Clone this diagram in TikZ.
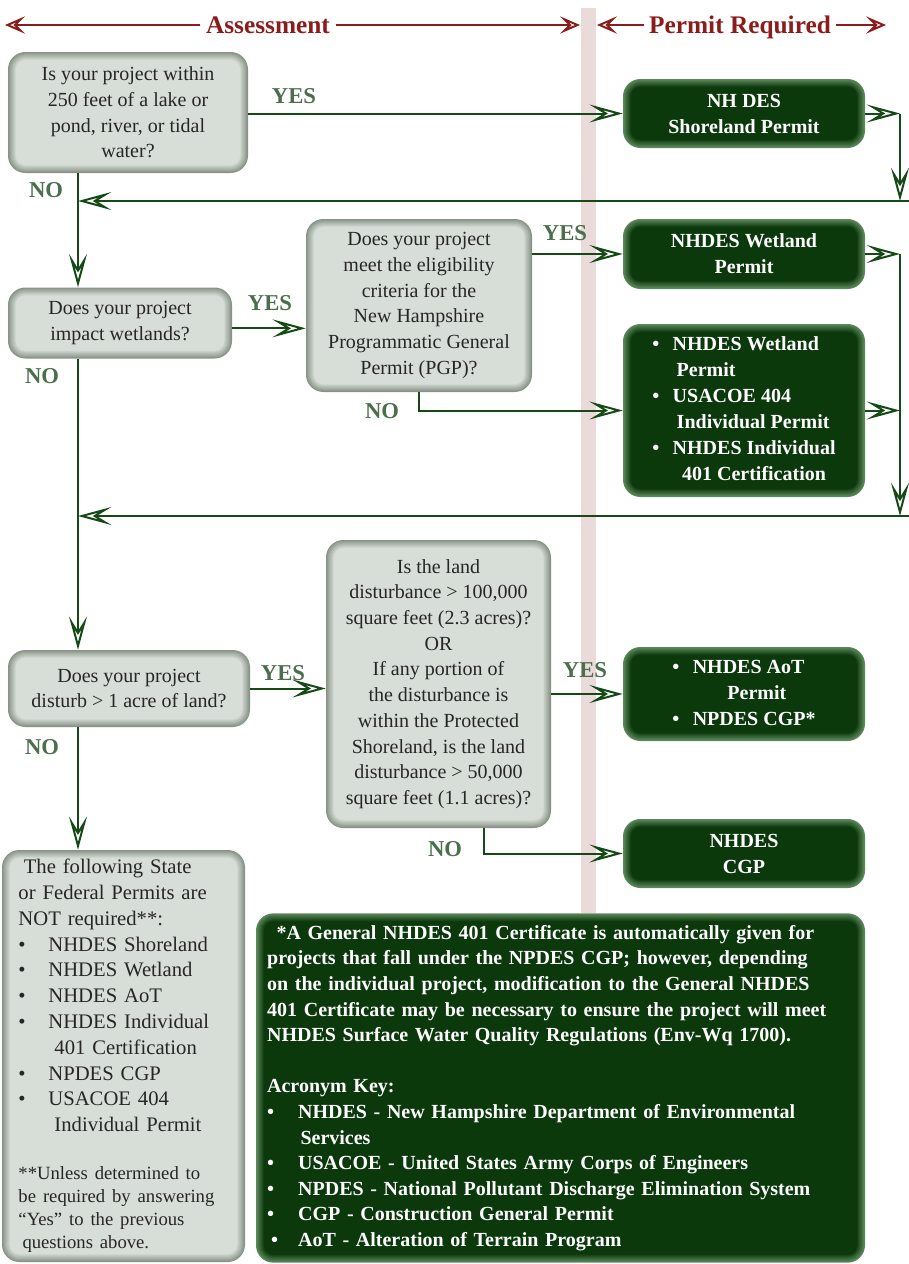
\documentclass[tikz,border=0pt]{standalone}
\usepackage{fontspec}
\setmainfont{Liberation Serif}
\usepackage{xcolor}
\usetikzlibrary{arrows.meta,calc}

\definecolor{hdred}{HTML}{8B1C1C}
\definecolor{band}{HTML}{EBDADA}
\definecolor{lnk}{HTML}{154A16}
\definecolor{lblgreen}{HTML}{4B6E4C}
\definecolor{qfill}{HTML}{D7DDD7}
\definecolor{qedge}{HTML}{879287}
\definecolor{pfill}{HTML}{0B390C}
\definecolor{pedge}{HTML}{5E8A5E}

\newcommand{\bul}[1]{\textbullet\hspace{#1}}

\tikzset{
  glow/.style 2 args={path picture={
      \foreach \k in {1,...,10}{
        \pgfmathtruncatemacro\pc{\k*10}
        \pgfmathsetmacro\rr{13-\k*0.6}
        \fill[#1!\pc!#2, rounded corners=\rr pt]
          ($(path picture bounding box.south west)+(\k*0.8,-\k*0.8)$) rectangle
          ($(path picture bounding box.north east)+(-\k*0.8,\k*0.8)$);
      }}},
  qbox/.style={rounded corners=13pt, fill=qedge, glow={qfill}{qedge}, align=center,
    inner sep=0pt, text=black!85, font=\fontsize{15}{19.3}\selectfont},
  pbox/.style={rounded corners=13pt, fill=pedge, glow={pfill}{pedge}, align=center,
    inner sep=0pt, text=white, font=\fontsize{15}{19.5}\selectfont\bfseries},
  flow/.style={draw=lnk, line width=1.5pt, -{Stealth[open, length=25pt, width=13.5pt, inset=11pt]}},
  harrow/.style={draw=hdred, line width=1.5pt, -{Stealth[open, length=15pt, width=13pt, inset=6.5pt]}},
  hdr/.style={text=hdred, font=\fontsize{19}{19}\selectfont\bfseries, text depth=0pt, inner sep=4pt},
  lbl/.style={text=lblgreen, font=\fontsize{17}{17}\selectfont\bfseries},
}

\begin{document}
\begin{tikzpicture}[x=0.75pt, y=-0.75pt]
  \useasboundingbox (0,0) rectangle (909,1264);
  % band between the two columns
  \fill[band] (581,8) rectangle (596,913);

  % headers
  \node[hdr] (ass) at (268,25) {Assessment};
  \node[hdr] (req) at (740,25) {Permit Required};
  \coordinate (ass l) at (5,25);
  \coordinate (ass r) at (580,25);
  \coordinate (req l) at (597,25);
  \coordinate (req r) at (886,25);
  \draw[harrow] (ass.west) -- (ass l);
  \draw[harrow] (ass.east) -- (ass r);
  \draw[harrow] (req.west) -- (req l);
  \draw[harrow] (req.east) -- (req r);

  % questions
  \node[qbox, minimum width=180pt, minimum height=90.75pt] (q1) at (128,112.5)
    {Is your project within\\250 feet of a lake or\\pond, river, or tidal\\water?};
  \node[qbox, minimum width=168pt, minimum height=53.25pt] (q2) at (120,323)
    {Does your project\\impact wetlands?};
  \node[qbox, minimum width=169.5pt, minimum height=129.75pt] (q3) at (419,305.5)
    {Does your project\\meet the eligibility\\criteria for the\\New Hampshire\\Programmatic General\\Permit (PGP)?};
  \node[qbox, minimum width=181.5pt, minimum height=57.75pt] (q4) at (129,688.5)
    {Does your project\\disturb > 1 acre of land?};
  \node[qbox, minimum width=168.75pt, minimum height=216pt] (q5) at (438.5,684)
    {Is the land\\disturbance > 100,000\\square feet (2.3 acres)?\\OR\\If any portion of\\the disturbance is\\within the Protected\\Shoreland, is the land\\disturbance > 50,000\\square feet (1.1 acres)?};
  \node[qbox, minimum width=182.25pt, minimum height=309pt, text width=157.5pt, align=left,
    font=\fontsize{15.5}{19.35}\selectfont] (q6) at (123.5,1056)
    {\hspace*{4pt}The following State\\or Federal Permits are\\NOT required**:\\
     \bul{17pt}NHDES Shoreland\\\bul{17pt}NHDES Wetland\\\bul{17pt}NHDES AoT\\
     \bul{17pt}NHDES Individual\\\hspace*{27pt}401 Certification\\\bul{17pt}NPDES CGP\\
     \bul{17pt}USACOE 404\\\hspace*{27pt}Individual Permit\par\vspace{19pt}
     {\fontsize{14}{17.25}\selectfont **Unless determined to\\be required by answering\\“Yes” to the previous\\\hspace*{3pt}questions above.\par}};

  % permits
  \node[pbox, minimum width=181.5pt, minimum height=51.75pt] (p1) at (744,113.5)
    {NH DES\\Shoreland Permit};
  \node[pbox, minimum width=181.5pt, minimum height=52.5pt] (p2) at (744,254)
    {NHDES Wetland\\Permit};
  \node[pbox, minimum width=181.5pt, minimum height=129.75pt] (p3) at (744,410.5)
    {\begin{tabular}{@{}l@{\hspace{10pt}}l@{}}
      \textbullet & NHDES Wetland\\ & \hspace{3pt}Permit\\
      \textbullet & USACOE 404\\ & \hspace{3pt}Individual Permit\\
      \textbullet & NHDES Individual\\ & \hspace{7pt}401 Certification
     \end{tabular}};
  \node[pbox, minimum width=181.5pt, minimum height=70.5pt] (p4) at (744,694)
    {\begin{tabular}{@{}l@{\hspace{10pt}}l@{}}
      \textbullet & NHDES AoT\\ & \hspace{26pt}Permit\\
      \textbullet & NPDES CGP*
     \end{tabular}};
  \node[pbox, minimum width=181.5pt, minimum height=51.75pt] (p5) at (744,853.5)
    {NHDES\\CGP};
  \node[pbox, minimum width=456.75pt, minimum height=262pt, text width=440pt, align=left,
    font=\fontsize{15}{19.2}\selectfont\bfseries] (note) at (560.5,1088)
    {\hspace*{7pt}*A General NHDES 401 Certificate is automatically given for\\
     projects that fall under the NPDES CGP; however, depending\\
     on the individual project, modification to the General NHDES\\
     401 Certificate may be necessary to ensure the project will meet\\
     NHDES Surface Water Quality Regulations (Env-Wq 1700).\\[19.2pt]
     Acronym Key:\\
     \bul{18pt}NHDES - New Hampshire Department of Environmental\\
     \hspace*{25pt}Services\\
     \bul{18pt}USACOE - United States Army Corps of Engineers\\
     \bul{18pt}NPDES - National Pollutant Discharge Elimination System\\
     \bul{18pt}CGP - Construction General Permit\\
     \hspace*{3pt}\bul{15pt}AoT - Alteration of Terrain Program};

  % answer labels
  \node[lbl] (yes1) at (294,96) {YES};
  \node[lbl] (no1) at (46,190) {NO};
  \node[lbl] (yes2) at (270,303) {YES};
  \node[lbl] (no2) at (42,376) {NO};
  \node[lbl] (yes3) at (565,233) {YES};
  \node[lbl] (no3) at (382,411) {NO};
  \node[lbl] (yes4) at (283,673) {YES};
  \node[lbl] (no4) at (42,747) {NO};
  \node[lbl] (yes5) at (585,670) {YES};
  \node[lbl] (no5) at (445,849) {NO};

  % return lines on the right
  \coordinate (s1) at (900,113.5);
  \coordinate (s2) at (900,201);
  \coordinate (e1) at (909,201);
  \coordinate (j1) at (78,201);
  \coordinate (s3) at (900,254);
  \coordinate (s5) at (900,516);
  \coordinate (e2) at (909,516);
  \coordinate (j2) at (78,516);

  \draw[flow] (q1.east |- p1.west) -- (p1.west);
  \draw[flow] (p1.east) -- (s1);
  \draw[flow] (s1) -- (s2);
  \draw[flow] (e1) -- (j1);
  \draw[flow] (q1.south -| j1) -- (q2.north -| j1);

  \draw[flow] ([yshift=-4pt]q2.east) -- ([yshift=-4pt]q2.east -| q3.west);
  \draw[flow] (q3.east |- p2.west) -- (p2.west);
  \draw[flow] (q3.south) |- (p3.west);
  \draw[flow] (p2.east) -- (s3);
  \draw[flow] (p3.east) -- (p3.east -| s3);
  \draw[flow] (s3) -- (s5);
  \draw[flow] (e2) -- (j2);
  \draw[flow] (q2.south -| j2) -- (q4.north -| j2);

  \draw[flow] (q4.east) -- (q4.east -| q5.west);
  \draw[flow] (q5.east |- p4.west) -- (p4.west);
  \draw[flow] ($(q5.south)+(45,0)$) |- (p5.west);
  \draw[flow] (q4.south -| j2) -- (q6.north -| j2);
\end{tikzpicture}
\end{document}
